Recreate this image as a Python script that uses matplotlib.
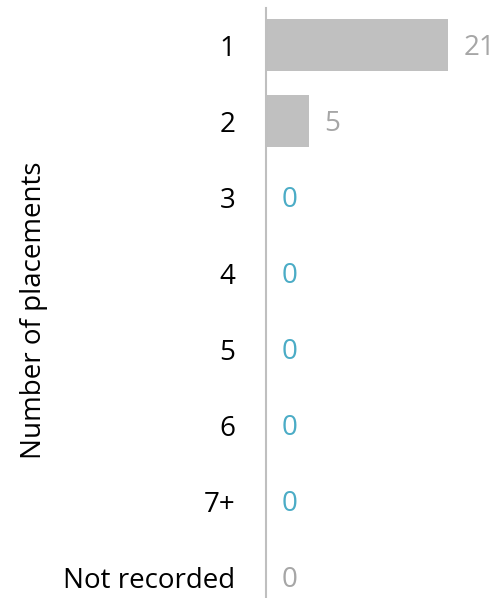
import matplotlib
matplotlib.use("Agg")
import matplotlib.pyplot as plt

categories = ["1", "2", "3", "4", "5", "6", "7+", "Not recorded"]
values = [21, 5, 0, 0, 0, 0, 0, 0]
label_colors = ["#a6a6a6", "#a6a6a6", "#4bacc6", "#4bacc6", "#4bacc6", "#4bacc6", "#4bacc6", "#a6a6a6"]

plt.rcParams['font.family'] = ['Open Sans', 'DejaVu Sans']

W, H = 496, 598
fig = plt.figure(figsize=(W / 100, H / 100), dpi=100)
ax = fig.add_axes([266 / W, 0, (W - 266) / W, (598 - 8) / H])

y = list(range(len(categories)))
ax.barh(y, values, height=0.68, color="#c0c0c0")
ax.set_ylim(7.27, -0.49)
ax.set_xlim(0, 26.5)

for yi, v, c in zip(y, values, label_colors):
    ax.annotate(str(v), (v, yi), xytext=(11, -2), textcoords="offset points",
                ha="left", va="center", fontsize=20, color=c)

ax.set_yticks(y)
ax.set_yticklabels(categories, fontsize=20, color="#000000")
ax.tick_params(axis="y", length=0, pad=22)
ax.set_xticks([])
for s in ["top", "right", "bottom"]:
    ax.spines[s].set_visible(False)
ax.spines["left"].set_color("#bfbfbf")
ax.spines["left"].set_linewidth(1.5)
ax.set_ylabel("Number of placements", fontsize=20, color="#000000")
ax.yaxis.set_label_coords(-(266 - 48) / (W - 266), (598 - 310) / 590)

fig.savefig("out.png", dpi=100)
